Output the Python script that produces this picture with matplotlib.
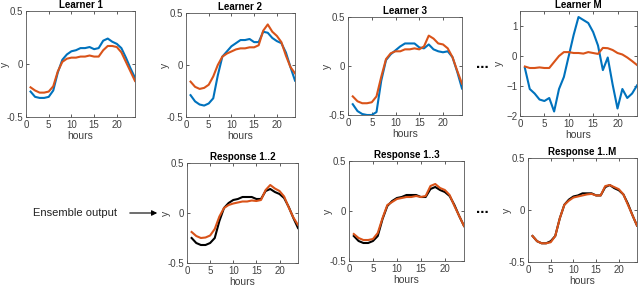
import numpy as np
import matplotlib
matplotlib.use("Agg")
import matplotlib.pyplot as plt

plt.rcParams['font.family'] = ['Liberation Sans', 'DejaVu Sans']

# data
hours = list(range(1, 25))

l1_blue = [-0.26, -0.31, -0.32, -0.32, -0.31, -0.25, -0.08, 0.04, 0.09, 0.12, 0.13, 0.15,
           0.15, 0.16, 0.14, 0.15, 0.22, 0.24, 0.21, 0.19, 0.15, 0.06, -0.04, -0.13]
l1_orange = [-0.22, -0.25, -0.27, -0.27, -0.26, -0.21, -0.07, 0.02, 0.05, 0.06, 0.06, 0.07,
             0.07, 0.08, 0.07, 0.07, 0.13, 0.17, 0.17, 0.16, 0.11, 0.02, -0.07, -0.16]

l2_blue = [-0.29, -0.35, -0.38, -0.39, -0.37, -0.32, -0.10, 0.08, 0.13, 0.18, 0.21, 0.24,
           0.24, 0.25, 0.22, 0.22, 0.32, 0.31, 0.26, 0.23, 0.21, 0.12, -0.02, -0.15]
l2_orange = [-0.16, -0.21, -0.23, -0.22, -0.19, -0.11, 0.0, 0.08, 0.11, 0.13, 0.15, 0.16,
             0.16, 0.17, 0.17, 0.19, 0.33, 0.39, 0.32, 0.28, 0.22, 0.09, -0.02, -0.08]

l3_blue = [-0.39, -0.46, -0.49, -0.50, -0.50, -0.47, -0.15, 0.06, 0.12, 0.16, 0.20, 0.23,
           0.23, 0.23, 0.19, 0.18, 0.22, 0.17, 0.15, 0.14, 0.15, 0.09, -0.06, -0.23]
l3_orange = [-0.31, -0.36, -0.38, -0.38, -0.37, -0.31, -0.11, 0.07, 0.13, 0.15, 0.15, 0.17,
             0.17, 0.18, 0.17, 0.20, 0.31, 0.28, 0.23, 0.22, 0.18, 0.09, -0.05, -0.18]

lm_blue = [-0.4, -1.1, -1.25, -1.45, -1.5, -1.4, -1.85, -1.1, -0.7, 0.0, 0.7, 1.3,
           1.2, 1.1, 0.8, 0.35, -0.47, -0.05, -0.95, -1.75, -1.1, -1.4, -1.25, -0.98]
lm_orange = [-0.35, -0.4, -0.4, -0.38, -0.4, -0.4, -0.2, 0.0, 0.13, 0.13, 0.1, 0.1,
             0.08, 0.13, 0.1, 0.07, 0.27, 0.26, 0.2, 0.1, 0.05, -0.05, -0.17, -0.3]

target = [-0.25, -0.30, -0.32, -0.32, -0.30, -0.25, -0.08, 0.05, 0.10, 0.13, 0.14, 0.16,
          0.16, 0.16, 0.14, 0.14, 0.22, 0.24, 0.21, 0.19, 0.15, 0.06, -0.05, -0.15]
r12 = [-0.19, -0.23, -0.25, -0.245, -0.225, -0.16, -0.035, 0.05, 0.08, 0.095, 0.105, 0.115,
       0.115, 0.125, 0.12, 0.13, 0.23, 0.28, 0.245, 0.22, 0.165, 0.055, -0.045, -0.12]
r13 = [-0.23, -0.27, -0.29, -0.29, -0.28, -0.22, -0.07, 0.06, 0.09, 0.12, 0.13, 0.14,
       0.14, 0.15, 0.14, 0.15, 0.25, 0.27, 0.23, 0.21, 0.16, 0.05, -0.05, -0.15]
r1m = [-0.25, -0.30, -0.32, -0.32, -0.31, -0.25, -0.08, 0.05, 0.09, 0.12, 0.13, 0.14,
       0.15, 0.155, 0.14, 0.14, 0.23, 0.24, 0.22, 0.20, 0.15, 0.05, -0.05, -0.15]

BLUE = '#0072BD'
ORANGE = '#D95319'
GREY = '#404040'

W, H = 640, 286
fig = plt.figure(figsize=(6.4, 2.86), dpi=100)


def box(x0, x1, y0, y1):
    # pixel box -> figure fraction
    return [x0 / W, 1 - y1 / H, (x1 - x0) / W, (y1 - y0) / H]


def panel(rect, title, a, b, ca, cb, ylim=(-0.5, 0.5), yticks=(-0.5, 0, 0.5), ylabels=None):
    ax = fig.add_axes(rect)
    ax.plot(hours, a, color=ca, lw=1.5)
    ax.plot(hours, b, color=cb, lw=1.5)
    ax.set_xlim(0, 24)
    ax.set_ylim(*ylim)
    ax.set_xticks([0, 5, 10, 15, 20])
    ax.set_yticks(yticks)
    if ylabels:
        ax.set_yticklabels(ylabels)
    ax.tick_params(direction='in', top=True, right=True, labelsize=7, colors=GREY,
                   length=2.5, width=0.6, pad=2)
    for s in ax.spines.values():
        s.set_color('#555555')
        s.set_linewidth(0.6)
    ax.set_title(title, fontsize=7, fontweight='bold', pad=2)
    ax.set_xlabel('hours', fontsize=7.5, color=GREY, labelpad=1)
    ax.set_ylabel('y', fontsize=7.5, color=GREY)
    ax.yaxis.set_label_coords(-16 / (rect[2] * W), 0.5)
    return ax


yl = ['-0.5', '0', '0.5']
panel(box(26, 135, 11, 117), 'Learner 1', l1_blue, l1_orange, BLUE, ORANGE, ylabels=yl)
panel(box(186, 295, 13, 117), 'Learner 2', l2_blue, l2_orange, BLUE, ORANGE, ylabels=yl)
panel(box(348, 462, 17, 115), 'Learner 3', l3_blue, l3_orange, BLUE, ORANGE, ylabels=yl)
panel(box(520, 637, 11, 116), 'Learner M', lm_blue, lm_orange, BLUE, ORANGE,
      ylim=(-2, 1.5), yticks=(-2, -1, 0, 1))
panel(box(187, 298, 163, 263), 'Response 1..2', target, r12, 'black', ORANGE, ylabels=yl)
panel(box(349, 464, 161, 261), 'Response 1..3', target, r13, 'black', ORANGE, ylabels=yl)
panel(box(528, 637, 158, 262), 'Response 1..M', target, r1m, 'black', ORANGE, ylabels=yl)

fig.text(482 / W, 1 - 64 / H, '...', fontsize=11, fontweight='bold', ha='center', va='center')
fig.text(482 / W, 1 - 209 / H, '...', fontsize=11, fontweight='bold', ha='center', va='center')

fig.text(33 / W, 1 - 213 / H, 'Ensemble output', fontsize=8, ha='left', va='center', color='#222222')
fig.patches.append(matplotlib.patches.FancyArrowPatch(
    (127 / W, 1 - 213 / H), (160 / W, 1 - 213 / H), transform=fig.transFigure,
    arrowstyle='-|>', mutation_scale=8, color='black', lw=0.8))

fig.savefig('out.png', dpi=100)
